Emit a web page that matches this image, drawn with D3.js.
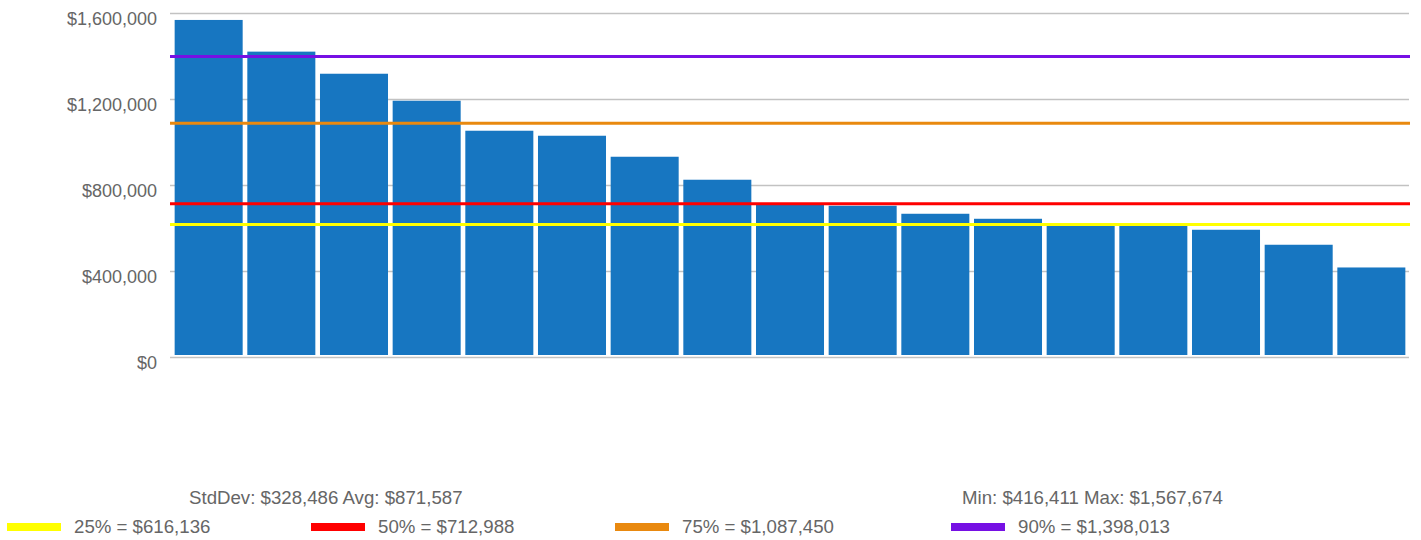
<!DOCTYPE html>
<html>
<head>
<meta charset="utf-8">
<script src="https://cdn.jsdelivr.net/npm/d3@7"></script>
<style>
  html, body { margin: 0; padding: 0; background: #fff; }
  svg { display: block; font-family: "Liberation Sans", Arial, sans-serif; }
</style>
</head>
<body>
<svg id="chart" width="1421" height="540"></svg>
<script>
// Ranked amounts, largest first
const categories = ["1","2","3","4","5","6","7","8","9","10","11","12","13","14","15","16","17"];
const amounts = [1567674, 1420300, 1317500, 1191900, 1052400, 1029100, 931400, 824500,
                 712988, 703400, 666200, 642900, 616136, 610300, 591800, 522070, 416411];

// Axis ticks
const yTicks = [0, 400000, 800000, 1200000, 1600000];

// Percentile reference lines
const pctLabels = ["25%", "50%", "75%", "90%"];
const pctValues = [616136, 712988, 1087450, 1398013];

// Summary statistics
const statNames = ["StdDev", "Avg", "Min", "Max"];
const statValues = [328486, 871587, 416411, 1567674];

// ---- styling and layout ----
const barColor = "#1776c1";
const pctColors = ["#ffff00", "#ff0000", "#e9890f", "#7610e4"];
const textColor = "#666666";
const gridColor = "#c2c2c2";

const plot = { left: 170, right: 1410, top: 13, bottom: 357 };
const legendX = [7, 311, 615, 951];

const money = d => "$" + d3.format(",")(d);

const svg = d3.select("#chart");

const x = d3.scaleBand()
  .domain(categories)
  .range([plot.left, plot.right])
  .paddingInner(0.064)
  .paddingOuter(0.064);

const y = d3.scaleLinear()
  .domain([0, 1600000])
  .range([plot.bottom, plot.top]);

// gridlines
const grid = svg.append("g")
  .attr("transform", `translate(${plot.left},0)`)
  .call(d3.axisLeft(y).tickValues(yTicks).tickSize(-(plot.right - 1 - plot.left)).tickFormat(""));
grid.select(".domain").remove();
grid.selectAll(".tick line").attr("stroke", gridColor).attr("stroke-width", 1.5);

// y axis labels
const yAxis = svg.append("g")
  .attr("transform", `translate(${plot.left},0)`)
  .call(d3.axisLeft(y).tickValues(yTicks).tickSize(0).tickPadding(13).tickFormat(money));
yAxis.select(".domain").remove();
yAxis.selectAll(".tick text")
  .attr("dy", null)
  .attr("y", 11.5)
  .attr("fill", textColor)
  .style("font-size", "18px")
  .style("font-family", "'Liberation Sans', Arial, sans-serif");

// bars
svg.append("g")
  .selectAll("rect")
  .data(amounts)
  .join("rect")
  .attr("x", (d, i) => x(categories[i]))
  .attr("width", x.bandwidth())
  .attr("y", d => y(d))
  .attr("height", d => y(0) - 2 - y(d))
  .attr("fill", barColor);

// percentile lines
svg.append("g")
  .selectAll("line")
  .data(pctValues)
  .join("line")
  .attr("x1", plot.left)
  .attr("x2", plot.right)
  .attr("y1", d => y(d))
  .attr("y2", d => y(d))
  .attr("stroke", (d, i) => pctColors[i])
  .attr("stroke-width", 3);

// summary statistics
const stats = svg.append("g")
  .attr("fill", textColor)
  .style("font-size", "18.67px");
stats.append("text")
  .attr("x", 189)
  .attr("y", 503.5)
  .text(`${statNames[0]}: ${money(statValues[0])} ${statNames[1]}: ${money(statValues[1])}`);
stats.append("text")
  .attr("x", 1223)
  .attr("y", 503.5)
  .attr("text-anchor", "end")
  .text(`${statNames[2]}: ${money(statValues[2])} ${statNames[3]}: ${money(statValues[3])}`);

// legend
const legend = svg.append("g")
  .selectAll("g")
  .data(pctValues)
  .join("g")
  .attr("transform", (d, i) => `translate(${legendX[i]},0)`);
legend.append("rect")
  .attr("x", 0)
  .attr("y", 523)
  .attr("width", 54)
  .attr("height", 8)
  .attr("fill", (d, i) => pctColors[i]);
legend.append("text")
  .attr("x", 67)
  .attr("y", 533.3)
  .attr("fill", textColor)
  .style("font-size", "18.67px")
  .text((d, i) => `${pctLabels[i]} = ${money(d)}`);
</script>
</body>
</html>
